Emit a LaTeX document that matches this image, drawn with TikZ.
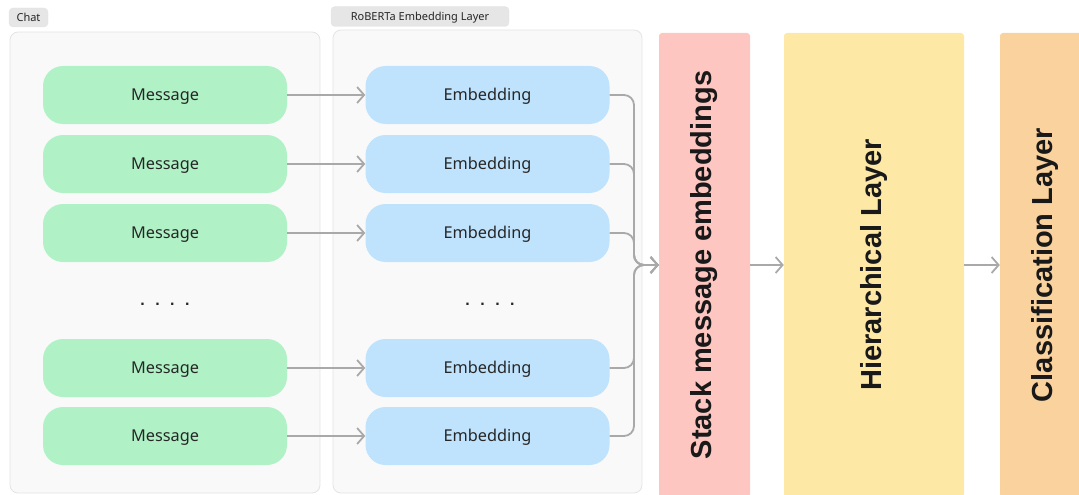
\documentclass[tikz,border=0pt]{standalone}
\usepackage{fontspec}
\setmainfont{Liberation Sans}
\newfontfamily\boxfont{Noto Sans}
\usetikzlibrary{arrows.meta,calc}
\definecolor{msgfill}{HTML}{B0F2C6}
\definecolor{embfill}{HTML}{BFE3FD}
\definecolor{stackfill}{HTML}{FDC6C1}
\definecolor{hierfill}{HTML}{FEE8A6}
\definecolor{clsfill}{HTML}{FAD29D}
\definecolor{contfill}{HTML}{F9F9F9}
\definecolor{contline}{HTML}{E4E4E4}
\definecolor{tagfill}{HTML}{E6E6E6}
\definecolor{arrowgray}{HTML}{A9A9A9}
\definecolor{txtgray}{HTML}{262626}
\begin{document}
\begin{tikzpicture}[x=1pt,y=-1pt,
  container/.style={draw=contline,fill=contfill,line width=0.8pt,rounded corners=8pt},
  tag/.style={fill=tagfill,draw=contline,rounded corners=4pt,inner sep=0pt,
    text height=7.8pt,text depth=0pt,
    font=\boxfont\fontsize{11}{12}\selectfont,text=txtgray},
  msgbox/.style={fill=msgfill,rounded corners=20pt,minimum width=244pt,minimum height=58pt,
    inner sep=0pt,text height=11.6pt,text depth=0pt,
    font=\boxfont\fontsize{16.3}{19}\selectfont,text=txtgray},
  embbox/.style={msgbox,fill=embfill},
  layerbox/.style={rounded corners=3pt,minimum height=464pt,inner sep=0pt,
    font=\bfseries\fontsize{29}{32}\selectfont,text=black!90},
  flow/.style={draw=arrowgray,line width=1.8pt,-{Straight Barb[length=7pt,width=16pt,line width=1.8pt]}},
  merge/.style={flow,rounded corners=10pt},
  dots/.style={font=\bfseries\fontsize{16}{18}\selectfont,text=black!85}
]
\useasboundingbox (0,0) rectangle (1079,495);

% containers
\draw[container] (10,32) rectangle (320,493);
\draw[container] (333,30) rectangle (642,493);
\node[tag,minimum width=39pt,minimum height=19pt] (chattag) at (28.5,17.5) {Chat};
\node[tag,minimum width=178pt,minimum height=20pt] (robtag) at (420,16.5) {RoBERTa Embedding Layer};

% message and embedding nodes
\foreach \i/\y in {1/95,2/164,3/233,5/368,6/436}{
  \node[msgbox] (m\i) at (165,\y) {Message};
  \node[embbox] (e\i) at (487.5,\y) {Embedding};
  \draw[flow] (m\i.east) -- (e\i.west);
}
\node[dots] (mdots) at (165,304) {.\hspace{10.5pt}.\hspace{10.5pt}.\hspace{10.5pt}.};
\node[dots] (edots) at (490,304) {.\hspace{10.5pt}.\hspace{10.5pt}.\hspace{10.5pt}.};

% layers
\node[layerbox,fill=stackfill,minimum width=91pt] (stack) at (704.5,265) {\rotatebox{90}{Stack message embeddings}};
\node[layerbox,fill=hierfill,minimum width=180pt] (hier) at (874,265) {\rotatebox{90}{Hierarchical Layer}};
\node[layerbox,fill=clsfill,minimum width=100pt] (cls) at (1050,265) {};
\node[font=\bfseries\fontsize{29}{32}\selectfont,text=black!90] (clstext) at (1045,265) {\rotatebox{90}{Classification Layer}};

% merging connectors
\coordinate (bus) at (634,265);
\foreach \i in {1,2,3,5,6}{
  \draw[merge] (e\i.east) -| (bus) -- (stack.west);
}
\draw[flow] (stack.east) -- (hier.west);
\draw[flow] (hier.east) -- (cls.west);
\end{tikzpicture}
\end{document}
